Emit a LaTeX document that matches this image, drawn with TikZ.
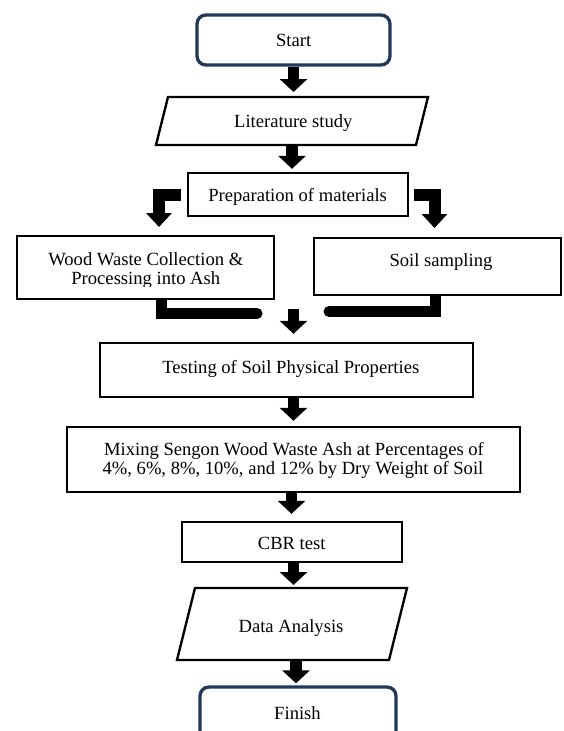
\documentclass[tikz,border=0pt]{standalone}
\usepackage{fontspec}
\setmainfont{Liberation Serif}
\usetikzlibrary{arrows.meta}
\pgfdeclarelayer{bg}
\pgfsetlayers{bg,main}
\definecolor{navy}{RGB}{32,56,90}
\begin{document}
\begin{tikzpicture}[x=1pt,y=-1pt,
  txt/.style={font=\fontsize{18.6}{20}\selectfont, inner sep=0pt, anchor=base},
  box/.style={draw=black, line width=2.4pt, fill=white, inner sep=0pt},
  para/.style={draw=black, line width=2.4pt, fill=white, line join=miter},
  term/.style={draw=navy, line width=3.3pt, fill=white, rounded corners=9pt, inner sep=0pt},
  ghost/.style={inner sep=0pt, outer sep=0pt},
  blockarrow/.style={line width=11.5pt, -{Triangle[width=27pt,length=13pt]}},
  elbow/.style={line width=12pt, line join=miter, -{Triangle[width=25pt,length=14pt]}},
  barline/.style={line width=11pt, line cap=round, line join=miter}]
\clip (0,0) rectangle (564,731);

% Start
\node[term, minimum width=193pt, minimum height=50pt] (start) at (293.5,40) {};
\node[txt] (startT) at (293.7,46.5) {Start};

% Literature study (parallelogram)
\node[ghost, minimum width=260pt, minimum height=48pt] (lit) at (292,121) {};
\draw[para] ([xshift=6pt]lit.north west) -- ([xshift=6pt]lit.north east)
  -- ([xshift=-6pt]lit.south east) -- ([xshift=-6pt]lit.south west) -- cycle;
\node[txt] (litT) at (293.3,127) {Literature study};

% Preparation of materials
\node[box, minimum width=220pt, minimum height=43pt] (prep) at (298,194.5) {};
\begin{scope}
  \clip (186,170) rectangle (410,204);
  \node[txt] (prepT) at (297.6,201.5) {Preparation of materials};
\end{scope}

% Wood waste
\node[box, minimum width=257pt, minimum height=63pt] (wood) at (145.5,267.5) {};
\begin{scope}
  \clip (15,233) rectangle (276,286);
  \node[txt] (woodA) at (145.8,265) {Wood Waste Collection \&};
  \node[txt] (woodB) at (145.8,284.5) {Processing into Ash};
\end{scope}

% Soil sampling
\node[box, minimum width=247pt, minimum height=57pt] (soil) at (437.5,266.5) {};
\node[txt] (soilT) at (441,266.5) {Soil sampling};

% Testing
\node[box, minimum width=373pt, minimum height=54pt] (test) at (286.5,370) {};
\node[txt] (testT) at (290.8,373) {Testing of Soil Physical Properties};

% Mixing
\node[box, minimum width=453pt, minimum height=65pt] (mix) at (293.5,459.5) {};
\node[txt] (mixA) at (294,455.5) {Mixing Sengon Wood Waste Ash at Percentages of};
\node[txt] (mixB) at (293,474) {4\%, 6\%, 8\%, 10\%, and 12\% by Dry Weight of Soil};

% CBR
\node[box, minimum width=220pt, minimum height=40pt] (cbr) at (292,542) {};
\node[txt] (cbrT) at (291.7,549) {CBR test};

% Data analysis (parallelogram)
\node[ghost, minimum width=212pt, minimum height=72pt] (data) at (292,624) {};
\draw[para] ([xshift=9pt]data.north west) -- ([xshift=9pt]data.north east)
  -- ([xshift=-9pt]data.south east) -- ([xshift=-9pt]data.south west) -- cycle;
\node[txt] (dataT) at (291,632) {Data Analysis};

% Finish
\node[term, minimum width=196pt, minimum height=80pt] (fin) at (298,727) {};
\node[txt] (finT) at (297.5,719) {Finish};

% Straight block arrows
\draw[blockarrow, shorten >=5pt] (start.south) -- (start.south |- lit.north);
\draw[blockarrow, shorten >=3pt] (lit.south) -- (lit.south |- prep.north);

% Elbow arrows from Preparation
\coordinate (tipL) at (159,227);
\coordinate (tipR) at (434.5,228);
\draw[elbow] ([xshift=-6pt]prep.west) -| (tipL);
\draw[elbow] ([xshift=5pt]prep.east) -| (tipR);

% Joining bars under the two boxes
\coordinate (jl) at (257,313.5);
\coordinate (jr) at (329,311.5);
\coordinate (sl) at ([xshift=15.5pt]wood.south);
\coordinate (sr) at ([xshift=-2.5pt]soil.south);
\begin{pgfonlayer}{bg}
  \fill[white] (0,0) rectangle (564,731);
  \draw[barline] (sl) |- (jl);
  \draw[barline] (sr) |- (jr);
\end{pgfonlayer}

% Middle arrow
\coordinate (mid) at (293.5,309);
\draw[blockarrow, shorten >=8pt] (mid) -- (mid |- test.north);

\coordinate (a5) at ([xshift=7pt]test.south);
\draw[blockarrow, shorten >=5pt] (a5) -- (a5 |- mix.north);
\coordinate (a6) at ([xshift=-2pt]mix.south);
\draw[blockarrow, shorten >=7pt] (a6) -- (a6 |- cbr.north);
\coordinate (a7) at ([xshift=1.5pt]cbr.south);
\draw[blockarrow, shorten >=3pt] (a7) -- (a7 |- data.north);
\coordinate (a8) at ([xshift=4pt]data.south);
\draw[blockarrow, shorten >=2pt] (a8) -- (a8 |- fin.north);
\end{tikzpicture}
\end{document}
